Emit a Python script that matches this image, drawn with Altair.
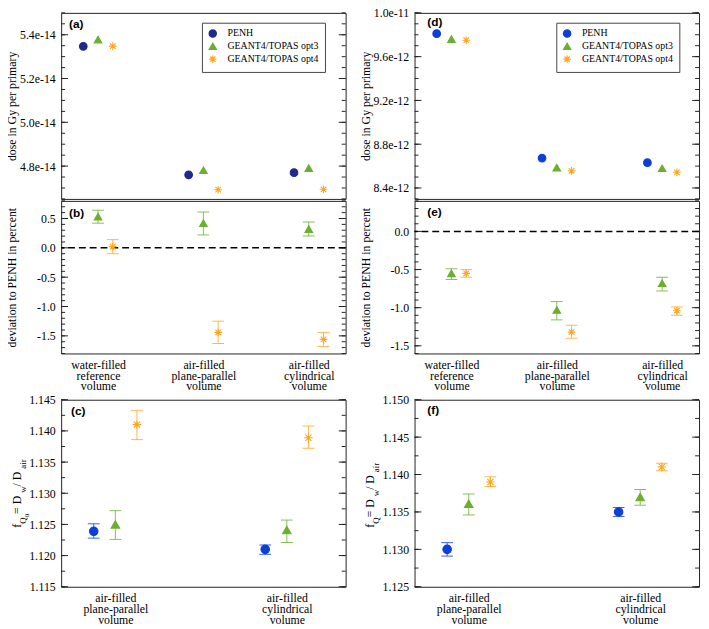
import altair as alt
import pandas as pd

SERIES = ["PENH", "GEANT4/TOPAS opt3", "GEANT4/TOPAS opt4"]
CATS3 = ["water-filled|reference|volume", "air-filled|plane-parallel|volume", "air-filled|cylindrical|volume"]
CATS2 = ["air-filled|plane-parallel|volume", "air-filled|cylindrical|volume"]

# (a) dose in Gy per primary
A_PENH = [5.347e-14, 4.760e-14, 4.770e-14]
A_OPT3 = [5.378e-14, 4.781e-14, 4.791e-14]
A_OPT4 = [5.348e-14, 4.692e-14, 4.694e-14]
# (b) deviation to PENH in percent
B_OPT3 = [0.53, 0.42, 0.32]
B_OPT3_LO = [0.42, 0.22, 0.20]
B_OPT3_HI = [0.64, 0.61, 0.44]
B_OPT4 = [0.02, -1.44, -1.56]
B_OPT4_LO = [-0.10, -1.63, -1.68]
B_OPT4_HI = [0.14, -1.25, -1.44]
# (c) f_Q0
C_PENH = [1.1239, 1.1210]
C_PENH_LO = [1.1228, 1.1202]
C_PENH_HI = [1.1251, 1.1217]
C_OPT3 = [1.1250, 1.1241]
C_OPT3_LO = [1.1226, 1.1221]
C_OPT3_HI = [1.1272, 1.1257]
C_OPT4 = [1.1410, 1.1389]
C_OPT4_LO = [1.1386, 1.1372]
C_OPT4_HI = [1.1433, 1.1408]
# (d) dose in Gy per primary
D_PENH = [9.81e-12, 8.673e-12, 8.631e-12]
D_OPT3 = [9.76e-12, 8.586e-12, 8.580e-12]
D_OPT4 = [9.75e-12, 8.556e-12, 8.543e-12]
# (e) deviation to PENH in percent
E_OPT3 = [-0.55, -1.03, -0.68]
E_OPT3_LO = [-0.63, -1.16, -0.78]
E_OPT3_HI = [-0.49, -0.92, -0.60]
E_OPT4 = [-0.55, -1.32, -1.04]
E_OPT4_LO = [-0.60, -1.40, -1.10]
E_OPT4_HI = [-0.50, -1.23, -0.99]
# (f) f_Q
F_PENH = [1.1300, 1.1350]
F_PENH_LO = [1.1291, 1.1344]
F_PENH_HI = [1.1309, 1.1356]
F_OPT3 = [1.1361, 1.1370]
F_OPT3_LO = [1.1346, 1.1359]
F_OPT3_HI = [1.1374, 1.1380]
F_OPT4 = [1.1390, 1.1410]
F_OPT4_LO = [1.1384, 1.1405]
F_OPT4_HI = [1.1397, 1.1415]

# axis ticks
A_DOMAIN = [4.65e-14, 5.5e-14]
A_MAJOR = [4.8e-14, 5.0e-14, 5.2e-14, 5.4e-14]
A_MINOR = [round(4.65 + 0.05 * k, 2) * 1e-14 for k in range(18)]
B_DOMAIN = [-1.8, 0.8]
B_MAJOR = [-1.5, -1.0, -0.5, 0.0, 0.5]
B_MINOR = [round(-1.8 + 0.1 * k, 1) for k in range(27)]
C_DOMAIN = [1.115, 1.145]
C_MAJOR = [1.115, 1.12, 1.125, 1.13, 1.135, 1.14, 1.145]
C_MINOR = [round(1.115 + 0.0025 * k, 4) for k in range(13)]
D_DOMAIN = [8.3e-12, 1.0e-11]
D_MAJOR = [8.4e-12, 8.8e-12, 9.2e-12, 9.6e-12, 1.0e-11]
D_MINOR = [round(8.3 + 0.1 * k, 1) * 1e-12 for k in range(18)]
E_DOMAIN = [-1.6, 0.4]
E_MAJOR = [-1.5, -1.0, -0.5, 0.0]
E_MINOR = [round(-1.6 + 0.1 * k, 1) for k in range(21)]
F_DOMAIN = [1.125, 1.15]
F_MAJOR = [1.125, 1.13, 1.135, 1.14, 1.145, 1.15]
F_MINOR = [round(1.125 + 0.0025 * k, 4) for k in range(11)]

NAVY = "#1d2b8e"
BLUE = "#0c3fd8"
GREEN = "#6cae2e"
ORANGE = "#ffa520"
ASTERISK = "M0,-1L0,1M-1,0L1,0M-0.72,-0.72L0.72,0.72M-0.72,0.72L0.72,-0.72"
SHAPES = ["circle", "triangle-up", ASTERISK]
SERIF = "Liberation Serif"
SANS = "Liberation Sans"
W = 289


def make_df(cats, rows):
    recs = []
    for s, vals, lo, hi in rows:
        for i, c in enumerate(cats):
            recs.append({"cat": c, "series": s, "value": vals[i],
                         "lo": lo[i] if lo else None, "hi": hi[i] if hi else None})
    return pd.DataFrame(recs)


def js_list(items):
    return "[" + ",".join("'%s'" % s for s in items) + "]"


def panel(df, cats, height, ydom, xdom, off, major, minor, fmt, penh_color, ytitle, show_x,
          legend_xy, tag, tag_xy, pt_size, has_err, zero_line=False, title_parts=None,
          ghost_top=None):
    yscale = alt.Scale(domain=ydom, nice=False, zero=False)
    xscale = alt.Scale(domain=xdom, nice=False, zero=False)
    if show_x:
        xaxis = alt.Axis(values=list(range(len(cats))),
                         labelExpr="split(%s[datum.value], '|')" % js_list(cats),
                         labelAngle=0, ticks=False, domain=False, title=None,
                         labelPadding=6, labelLineHeight=11, labelBaseline="top",
                         labelFont=SERIF, labelFontSize=12, labelColor="black", grid=False)
    else:
        xaxis = None
    cscale = alt.Scale(domain=SERIES, range=[penh_color, GREEN, ORANGE])
    if legend_xy:
        leg = alt.Legend(orient="none", legendX=legend_xy[0], legendY=legend_xy[1], title=None,
                         fillColor="white", strokeColor="#444", padding=6,
                         labelFont=SERIF, labelFontSize=10, labelColor="black",
                         symbolSize=55, symbolStrokeWidth=1.2, rowPadding=0, labelOffset=10)
    else:
        leg = None
    label_values = list(major)
    lab = "replace(format(datum.value, '%s'), '\u2212', '-')" % fmt
    if ghost_top is not None:
        label_values = label_values + [ghost_top]
        lab = "datum.value > %g ? ' ' : %s" % (ghost_top * 0.999, lab)
    yaxis = alt.Axis(orient="left", values=label_values, labelExpr=lab,
                     ticks=False, domain=False, grid=False, labelPadding=6,
                     labelFont=SERIF, labelFontSize=12, labelColor="black",
                     title=ytitle if ytitle else None, titleX=-43,
                     titleFont=SERIF, titleFontSize=12, titleFontWeight="normal",
                     titleColor="black")
    layers = []
    base = alt.Chart(df).transform_calculate(
        xpos="indexof(%s, datum.cat) + (indexof(%s, datum.series) - 1) * %f"
             % (js_list(cats), js_list(SERIES), off))

    # inward mirrored ticks on both vertical frame edges
    for vals, sz in [(major, 7), (minor, 4)]:
        tdf = pd.DataFrame({"tv": vals})
        for xc in [sz / 2.0, W - sz / 2.0]:
            layers.append(alt.Chart(tdf).mark_tick(
                orient="horizontal", size=sz, thickness=1, color="#222", opacity=1).encode(
                y=alt.Y("tv:Q", scale=yscale, axis=yaxis), x=alt.value(xc)))

    if zero_line:
        layers.append(alt.Chart(pd.DataFrame({"z": [0.0]})).mark_rule(
            color="black", strokeDash=[7, 4], strokeWidth=1.5).encode(
            y=alt.Y("z:Q", scale=yscale, axis=yaxis)))
    if has_err:
        err = base.transform_filter("isValid(datum.lo)")
        layers.append(err.mark_rule(strokeWidth=1, opacity=0.8).encode(
            x=alt.X("xpos:Q", scale=xscale, axis=xaxis),
            y=alt.Y("lo:Q", scale=yscale, axis=yaxis), y2="hi:Q",
            color=alt.Color("series:N", scale=cscale, legend=None)))
        for fld in ["lo", "hi"]:
            layers.append(err.mark_tick(size=12, thickness=1, opacity=0.8,
                                        orient="horizontal").encode(
                x=alt.X("xpos:Q", scale=xscale, axis=xaxis),
                y=alt.Y(fld + ":Q", scale=yscale, axis=yaxis),
                color=alt.Color("series:N", scale=cscale, legend=None)))
    layers.append(base.mark_point(filled=True, opacity=1, size=pt_size, strokeWidth=1.1).encode(
        x=alt.X("xpos:Q", scale=xscale, axis=xaxis),
        y=alt.Y("value:Q", scale=yscale, axis=yaxis),
        shape=alt.Shape("series:N", scale=alt.Scale(domain=SERIES, range=SHAPES), legend=leg),
        fill=alt.Fill("series:N", scale=cscale, legend=leg),
        stroke=alt.Stroke("series:N", scale=cscale, legend=leg)))
    layers.append(alt.Chart(pd.DataFrame({"t": [tag]})).mark_text(
        font=SANS, fontWeight="bold", fontSize=12, align="left", baseline="middle",
        color="black").encode(text="t:N", x=alt.value(tag_xy[0]), y=alt.value(tag_xy[1])))
    if title_parts:
        widths = {"f": 333, "Q": 722, "0": 500, " ": 250, "=": 564, "D": 722, "w": 722,
                  "/": 278, "a": 444, "i": 278, "r": 333}
        sizes = {0: 12, 1: 9, 2: 7}
        xoffs = {0: -41, 1: -36, 2: -33}
        ypos = 130.0
        for txt, lvl in title_parts:
            fs = sizes[lvl]
            layers.append(alt.Chart(pd.DataFrame({"t": [txt]})).mark_text(
                font=SERIF, fontSize=fs, angle=270, align="left", baseline="alphabetic",
                color="black").encode(text="t:N", x=alt.value(xoffs[lvl]), y=alt.value(ypos)))
            ypos -= sum(widths[ch] for ch in txt) * fs / 1000.0
    return alt.layer(*layers).properties(width=W, height=height)


X3 = [-0.35, 2.35]
X2 = [-0.316, 1.343]
OFF3 = 0.14
OFF2 = 0.126
TITLE_C = [("f", 0), ("Q", 1), ("0", 2), (" = D", 0), ("w", 1), (" / D", 0), ("air", 1)]
TITLE_F = [("f", 0), ("Q", 1), (" = D", 0), ("w", 1), (" / D", 0), ("air", 1)]

dfa = make_df(CATS3, [(SERIES[0], A_PENH, None, None), (SERIES[1], A_OPT3, None, None),
                      (SERIES[2], A_OPT4, None, None)])
dfb = make_df(CATS3, [(SERIES[1], B_OPT3, B_OPT3_LO, B_OPT3_HI),
                      (SERIES[2], B_OPT4, B_OPT4_LO, B_OPT4_HI)])
dfc = make_df(CATS2, [(SERIES[0], C_PENH, C_PENH_LO, C_PENH_HI),
                      (SERIES[1], C_OPT3, C_OPT3_LO, C_OPT3_HI),
                      (SERIES[2], C_OPT4, C_OPT4_LO, C_OPT4_HI)])
dfd = make_df(CATS3, [(SERIES[0], D_PENH, None, None), (SERIES[1], D_OPT3, None, None),
                      (SERIES[2], D_OPT4, None, None)])
dfe = make_df(CATS3, [(SERIES[1], E_OPT3, E_OPT3_LO, E_OPT3_HI),
                      (SERIES[2], E_OPT4, E_OPT4_LO, E_OPT4_HI)])
dff = make_df(CATS2, [(SERIES[0], F_PENH, F_PENH_LO, F_PENH_HI),
                      (SERIES[1], F_OPT3, F_OPT3_LO, F_OPT3_HI),
                      (SERIES[2], F_OPT4, F_OPT4_LO, F_OPT4_HI)])

pa = panel(dfa, CATS3, 189, A_DOMAIN, X3, OFF3, A_MAJOR, A_MINOR, ".1e", NAVY,
           "dose in Gy per primary", False, (143, 10), "(a)", (8, 11), 60, False,
           ghost_top=5.5e-14)
pb = panel(dfb, CATS3, 155, B_DOMAIN, X3, OFF3, B_MAJOR, B_MINOR, ".1f", NAVY,
           "deviation to PENH in percent", True, None, "(b)", (8, 12), 60, True,
           zero_line=True)
pc = panel(dfc, CATS2, 190, C_DOMAIN, X2, OFF2, C_MAJOR, C_MINOR, ".3f", BLUE, None, True,
           (99, 3), "(c)", (10, 12), 75, True, title_parts=TITLE_C)
pd_ = panel(dfd, CATS3, 189, D_DOMAIN, X3, OFF3, D_MAJOR, D_MINOR, ".1e", BLUE,
            "dose in Gy per primary", False, (144, 10), "(d)", (13, 9), 60, False)
pe = panel(dfe, CATS3, 155, E_DOMAIN, X3, OFF3, E_MAJOR, E_MINOR, ".1f", BLUE,
           "deviation to PENH in percent", True, None, "(e)", (13, 11), 60, True,
           zero_line=True)
pf = panel(dff, CATS2, 190, F_DOMAIN, X2, OFF2, F_MAJOR, F_MINOR, ".3f", BLUE, None, True,
           (99, 3), "(f)", (13, 11), 75, True, title_parts=TITLE_F)

IND = dict(color="independent", fill="independent", stroke="independent", shape="independent")
left = alt.vconcat(pa, pb, pc, spacing=0).resolve_scale(**IND)
right = alt.vconcat(pd_, pe, pf, spacing=0).resolve_scale(**IND)

chart = alt.hconcat(left, right, spacing=11).resolve_scale(**IND).properties(
    padding={"left": -3, "top": -7, "right": 0, "bottom": 0},
    background="white",
).configure_view(stroke="#222", strokeWidth=1)

chart.save("out.html", embed_options={"renderer": "svg", "actions": False})
